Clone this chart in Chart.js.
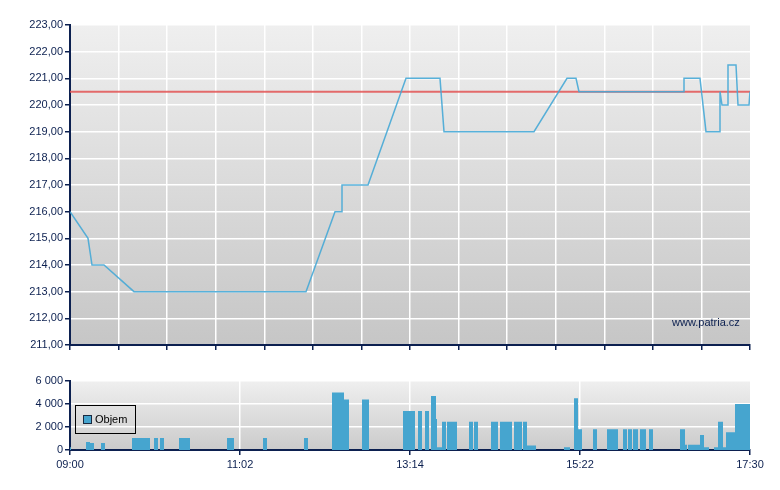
<!DOCTYPE html>
<html>
<head>
<meta charset="utf-8">
<script src="https://cdn.jsdelivr.net/npm/chart.js@4.4.1/dist/chart.umd.min.js"></script>
<style>
  body { margin: 0; background: #fff; font-family: "Liberation Sans", Arial, sans-serif; }
  #wrap { position: relative; width: 780px; height: 490px; overflow: hidden; }
  #cenaChart { position: absolute; left: 0; top: 0; }
  #objemChart { position: absolute; left: 0; top: 370px; }
  .zdroj { position: absolute; left: 672px; top: 316px; font-size: 11px; line-height: 13px; color: #0c2050; }
  .legenda { position: absolute; left: 75px; top: 405px; width: 59px; height: 27px; border: 1px solid #000; font-size: 11px; color: #000; }
  .legenda span.box { position: absolute; left: 7px; top: 9px; width: 7px; height: 7px; background: #46a5cf; border: 1px solid #1a2a40; }
  .legenda span.txt { position: absolute; left: 19px; top: 7px; line-height: 13px; }
</style>
</head>
<body>
<div id="wrap">
  <canvas id="cenaChart" width="780" height="360"></canvas>
  <canvas id="objemChart" width="780" height="120"></canvas>
  <div class="zdroj">www.patria.cz</div>
  <div class="legenda"><span class="box"></span><span class="txt">Objem</span></div>
</div>
<script>
// cas = minuty od 09:00
const casPopisky = ["09:00", "11:02", "13:14", "15:22", "17:30"];
const casTicky = [0, 127.5, 255, 382.5, 510];

// prubeh ceny
const cenaCas = [0, 13.5, 16.5, 25.5, 48, 177, 198.75, 204, 204, 223.5, 252, 277.5, 280.5, 348, 372.75, 379.5, 381.75, 460.5, 460.5, 472.5, 477, 487.5, 487.5, 489, 493.5, 493.5, 499.5, 501, 509.25, 510];
const cenaHodnota = [216, 215, 214, 214, 213, 213, 216, 216, 217, 217, 221, 221, 219, 219, 221, 221, 220.5, 220.5, 221, 221, 219, 219, 220.5, 220, 220, 221.5, 221.5, 220, 220, 220.5];

// referencni cena (predchozi zaviraci)
const refCena = 220.5;

// objemy obchodu
const objemOd = [0, 12, 15, 23.25, 46.5, 63, 67.5, 81.75, 117.75, 144.75, 175.5, 196.5, 205.5, 219, 249.75, 261, 266.25, 270.75, 274.5, 275.25, 279, 282.75, 299.25, 303, 315.75, 322.5, 333, 339.75, 342.75, 370.5, 378, 381, 392.25, 402.75, 414.75, 418.5, 422.25, 427.5, 434.25, 457.5, 461.25, 463.5, 472.5, 475.5, 483, 486, 489.75, 492, 498.75];
const objemDo = [0.75, 15, 18, 26.25, 60, 66, 70.5, 90, 123, 147.75, 178.5, 205.5, 209.25, 224.25, 258.75, 264, 269.25, 274.5, 275.25, 279, 282, 290.25, 302.25, 306, 321, 331.5, 339, 342.75, 349.5, 375, 381, 384, 395.25, 411, 417.75, 421.5, 426, 432, 437.25, 461.25, 462.75, 472.5, 475.5, 479.25, 486, 489.75, 492, 498.75, 510];
const objemHodnota = [250, 700, 600, 600, 1050, 1050, 1050, 1050, 1050, 1050, 1050, 5000, 4400, 4400, 3400, 3400, 3400, 4700, 2700, 250, 2450, 2450, 2450, 2450, 2450, 2450, 2450, 2450, 400, 250, 4500, 1800, 1800, 1800, 1800, 1800, 1800, 1800, 1800, 1800, 450, 450, 1300, 250, 250, 2450, 250, 1550, 4000];

const modra = "#0c2050";
const pismo = { family: "Liberation Sans", size: 11 };
const mrizkaCas = Array.from({ length: 15 }, (_, k) => k * 510 / 14);

// pozadi s prechodem
const pozadi = {
    id: "pozadi",
    beforeDraw(chart, args, opts) {
        const { ctx, chartArea: a } = chart;
        const g = ctx.createLinearGradient(0, a.top, 0, a.bottom);
        g.addColorStop(0, opts.nahore);
        g.addColorStop(1, opts.dole);
        ctx.save();
        ctx.fillStyle = g;
        ctx.fillRect(a.left, a.top, a.width, a.height);
        ctx.restore();
    }
};

const cenaData = cenaCas.map((x, i) => ({ x, y: cenaHodnota[i] }));

new Chart(document.getElementById("cenaChart"), {
    type: "line",
    data: {
        datasets: [
            {
                label: "Cena",
                data: cenaData,
                borderColor: "rgba(70,168,214,0.9)",
                borderWidth: 1.5,
                pointRadius: 0,
                tension: 0
            },
            {
                label: "Reference",
                data: [{ x: 0, y: refCena }, { x: 510, y: refCena }],
                borderColor: "rgba(226,84,84,0.85)",
                borderWidth: 2,
                pointRadius: 0
            }
        ]
    },
    plugins: [pozadi],
    options: {
        responsive: false,
        animation: false,
        events: [],
        layout: { padding: { top: 25, right: 30, left: 0, bottom: 0 } },
        plugins: {
            legend: { display: false },
            tooltip: { enabled: false },
            pozadi: { nahore: "#efefef", dole: "#c6c6c6" }
        },
        scales: {
            x: {
                type: "linear",
                min: 0,
                max: 510,
                afterBuildTicks: (s) => { s.ticks = mrizkaCas.map((v) => ({ value: v })); },
                afterFit: (s) => { s.height = 15; },
                ticks: { display: false },
                grid: {
                    color: (c) => (c.index === mrizkaCas.length - 1 ? "rgba(0,0,0,0)" : "#ffffff"),
                    lineWidth: 1.5,
                    tickColor: modra,
                    tickLength: 5
                },
                border: { color: modra, width: 2 }
            },
            y: {
                min: 211,
                max: 223,
                afterFit: (s) => { s.width = 70; },
                ticks: {
                    stepSize: 1,
                    color: modra,
                    font: pismo,
                    padding: 2,
                    callback: (v) => v.toFixed(2).replace(".", ",")
                },
                grid: { color: "#ffffff", lineWidth: 1.5, tickColor: modra, tickLength: 5 },
                border: { color: modra, width: 2 }
            }
        }
    }
});

// schodovita plocha objemu
const objemData = [];
objemOd.forEach((od, i) => {
    objemData.push({ x: od, y: objemHodnota[i] });
    objemData.push({ x: objemDo[i], y: 0 });
});

new Chart(document.getElementById("objemChart"), {
    type: "line",
    data: {
        datasets: [
            {
                label: "Objem",
                data: objemData,
                stepped: "before",
                fill: "origin",
                backgroundColor: "#46a5cf",
                borderWidth: 0,
                pointRadius: 0
            }
        ]
    },
    plugins: [pozadi],
    options: {
        responsive: false,
        animation: false,
        events: [],
        layout: { padding: { top: 11, right: 30, left: 0, bottom: 0 } },
        plugins: {
            legend: { display: false },
            tooltip: { enabled: false },
            pozadi: { nahore: "#efefef", dole: "#cbcbcb" }
        },
        scales: {
            x: {
                type: "linear",
                min: 0,
                max: 510,
                afterBuildTicks: (s) => { s.ticks = casTicky.map((v) => ({ value: v })); },
                afterFit: (s) => { s.height = 40; },
                ticks: {
                    color: modra,
                    font: pismo,
                    padding: 3,
                    maxRotation: 0,
                    autoSkip: false,
                    callback: (v, i) => casPopisky[i]
                },
                grid: {
                    color: (c) => (c.index === 0 || c.index === casTicky.length - 1 ? "rgba(0,0,0,0)" : "#ffffff"),
                    lineWidth: 1.5,
                    tickColor: modra,
                    tickLength: 5
                },
                border: { color: modra, width: 2 }
            },
            y: {
                min: 0,
                max: 6000,
                afterFit: (s) => { s.width = 70; },
                ticks: {
                    stepSize: 2000,
                    color: modra,
                    font: pismo,
                    padding: 2,
                    callback: (v) => String(v).replace(/\B(?=(\d{3})+(?!\d))/g, " ")
                },
                grid: { color: "#ffffff", lineWidth: 1.5, tickColor: modra, tickLength: 5 },
                border: { color: modra, width: 2 }
            }
        }
    }
});
</script>
</body>
</html>
